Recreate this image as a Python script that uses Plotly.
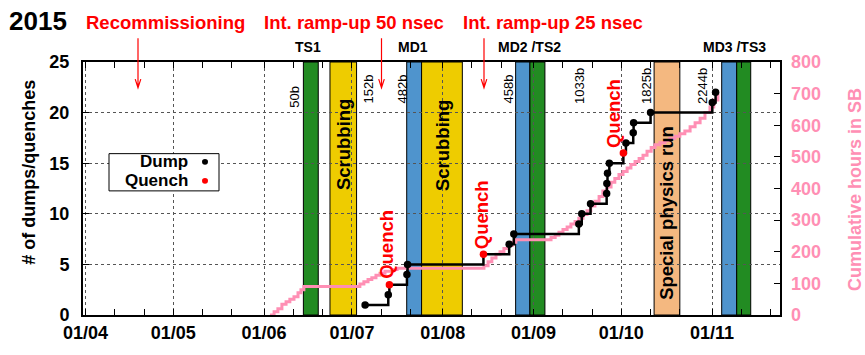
import plotly.graph_objects as go

# ---------------- data ----------------
# Beam dumps (cumulative count); flagged entries were quenches
dump_times = [
    "2015-07-05 12:00", "2015-07-13 10:00", "2015-07-13 19:00", "2015-07-19 19:00",
    "2015-07-20 00:00", "2015-08-14 22:00", "2015-08-23 17:00", "2015-08-25 07:00",
    "2015-09-16 12:00", "2015-09-17 12:00", "2015-09-20 12:00", "2015-09-26 00:00",
    "2015-09-26 02:00", "2015-09-26 07:00", "2015-09-26 22:00", "2015-10-01 17:00",
    "2015-10-02 14:00", "2015-10-05 02:00", "2015-10-05 05:00", "2015-10-11 00:00",
    "2015-11-01 02:00", "2015-11-02 05:00",
]
dump_counts = [1, 2, 3, 4, 5, 6, 7, 8, 9, 10, 11, 12, 13, 14, 15, 16, 17, 18, 19, 20, 21, 22]
is_quench = [0, 0, 1, 0, 0, 1, 0, 0, 0, 0, 0, 0, 0, 0, 0, 1, 0, 0, 0, 0, 0, 0]

# Cumulative hours in stable beams
sb_times = [
    "2015-06-03 00:00", "2015-06-04 10:00", "2015-06-05 17:00", "2015-06-07 02:00",
    "2015-06-08 12:00", "2015-06-09 19:00", "2015-06-11 05:00", "2015-06-12 14:00",
    "2015-06-13 14:00", "2015-06-14 14:00",
    "2015-07-03 17:00", "2015-07-05 02:00", "2015-07-06 12:00", "2015-07-07 19:00",
    "2015-07-09 05:00", "2015-07-10 14:00", "2015-07-12 07:00", "2015-07-14 17:00",
    "2015-07-16 10:00",
    "2015-08-15 02:00", "2015-08-16 12:00", "2015-08-17 19:00", "2015-08-19 05:00",
    "2015-08-20 14:00", "2015-08-21 22:00", "2015-08-23 07:00", "2015-08-24 17:00",
    "2015-08-26 00:00",
    "2015-09-07 00:00", "2015-09-08 10:00", "2015-09-09 17:00", "2015-09-11 02:00",
    "2015-09-12 12:00", "2015-09-13 19:00", "2015-09-15 05:00", "2015-09-16 12:00",
    "2015-09-17 22:00", "2015-09-19 07:00", "2015-09-20 14:00", "2015-09-22 00:00",
    "2015-09-23 10:00", "2015-09-24 17:00", "2015-09-26 02:00", "2015-09-27 12:00",
    "2015-09-28 19:00", "2015-09-30 05:00", "2015-10-01 14:00", "2015-10-03 00:00",
    "2015-10-04 07:00", "2015-10-05 17:00", "2015-10-07 02:00", "2015-10-08 10:00",
    "2015-10-09 19:00", "2015-10-11 05:00", "2015-10-12 12:00", "2015-10-14 05:00",
    "2015-10-15 22:00", "2015-10-17 14:00", "2015-10-19 07:00", "2015-10-21 00:00",
    "2015-10-22 17:00", "2015-10-24 12:00", "2015-10-26 05:00", "2015-10-27 22:00",
    "2015-10-29 14:00", "2015-10-31 07:00", "2015-11-01 14:00", "2015-11-03 00:00",
]
sb_hours = [
    0, 10, 20, 34, 42, 50, 58, 70, 80, 90,
    98, 105, 112, 118, 126, 132, 138, 144, 148,
    156, 168, 180, 192, 200, 210, 220, 230, 238,
    245, 252, 262, 270, 278, 288, 296, 306, 318, 330, 345, 360, 375, 392,
    405, 420, 432, 444, 454, 465, 476, 485, 495, 505, 518, 530, 538,
    545, 552, 558, 565, 573, 582, 595, 608, 622, 640, 658, 680, 700,
]

# Machine periods: technical stops, machine development, scrubbing, special run
period_kind = ["TS", "Scrub", "MD", "Scrub", "MD", "TS", "Special", "MD", "TS"]
period_start = [
    "2015-06-14 10:00", "2015-06-23 12:00", "2015-07-19 17:00", "2015-07-24 19:00",
    "2015-08-25 22:00", "2015-08-30 19:00", "2015-10-12 05:00", "2015-11-04 07:00",
    "2015-11-09 10:00",
]
period_end = [
    "2015-06-19 12:00", "2015-07-02 14:00", "2015-07-24 19:00", "2015-08-07 17:00",
    "2015-08-30 19:00", "2015-09-04 22:00", "2015-10-21 00:00", "2015-11-09 10:00",
    "2015-11-14 05:00",
]
period_colors = {"TS": "#228b22", "MD": "#4f94cd", "Scrub": "#eecc00", "Special": "#f4b880"}

month_ticks = ["2015-04-01", "2015-05-01", "2015-06-01", "2015-07-01",
               "2015-08-01", "2015-09-01", "2015-10-01", "2015-11-01"]
month_labels = ["01/04", "01/05", "01/06", "01/07", "01/08", "01/09", "01/10", "01/11"]
minor_ticks = ["2015-04-11", "2015-04-21", "2015-05-11", "2015-05-21", "2015-06-11",
               "2015-06-21", "2015-07-11", "2015-07-21", "2015-08-11", "2015-08-21",
               "2015-09-11", "2015-09-21", "2015-10-11", "2015-10-21", "2015-11-11",
               "2015-11-21"]

bunch_labels = ["50b", "152b", "482b", "458b", "1033b", "1825b", "2244b"]

# ---------------- layout helpers ----------------
W, H = 865, 355
L, R, T, B = 83, 780, 62, 327          # plot frame in pixels
FONT = "Liberation Sans, Arial, Helvetica, sans-serif"
PINK = "#ff8fb4"
RED = "#ff0000"


def px(x):
    return (x - L) / (R - L)


def py(y):
    return (B - y) / (B - T)


fig = go.Figure()

# cumulative stable-beam hours (right axis)
fig.add_trace(go.Scatter(
    x=sb_times, y=sb_hours, yaxis="y", mode="lines",
    line=dict(color=PINK, width=3, shape="hv"), hoverinfo="skip",
))

# dumps (left axis)
fig.add_trace(go.Scatter(
    x=dump_times, y=dump_counts, yaxis="y2", mode="lines+markers",
    line=dict(color="black", width=2.5, shape="hv"),
    marker=dict(size=7.5, color=[RED if q else "black" for q in is_quench]),
))

shapes = []
for kind, s, e in zip(period_kind, period_start, period_end):
    shapes.append(dict(type="rect", xref="x", yref="paper", x0=s, x1=e, y0=0, y1=1,
                       fillcolor=period_colors[kind], line=dict(color="black", width=1),
                       layer="between"))

# phase arrows
for ax in (138, 381.5, 484):
    shapes.append(dict(type="path", xref="paper", yref="paper", layer="above",
                       path=(f"M{px(ax)},{py(37)} L{px(ax)},{py(89)} "
                             f"M{px(ax - 2.8)},{py(80)} L{px(ax)},{py(89)} L{px(ax + 2.8)},{py(80)}"),
                       line=dict(color=RED, width=1.2)))

# legend box and symbols
LEG_ROWS = (166.5, 186.5)
shapes.append(dict(type="rect", xref="paper", yref="paper", layer="above",
                   x0=px(109), x1=px(219), y0=py(197), y1=py(158),
                   fillcolor="white", line=dict(color="black", width=1)))
for cy, col in zip(LEG_ROWS, ("black", RED)):
    shapes.append(dict(type="circle", xref="paper", yref="paper", layer="above",
                       x0=px(202), x1=px(208), y0=py(cy + 3), y1=py(cy - 3),
                       fillcolor=col, line=dict(color=col, width=0)))

ann = []


def text(x, y, s, size=18.5, color="black", bold=True, angle=0, xanchor="center",
         yanchor="middle", pad=1):
    ann.append(dict(xref="paper", yref="paper", x=px(x), y=py(y), text=s, showarrow=False,
                    textangle=angle, xanchor=xanchor, yanchor=yanchor, borderpad=pad,
                    font=dict(family=FONT, size=size, color=color,
                              weight="bold" if bold else "normal")))


text(37.5, 19, "2015", size=26)
text(165, 21, "Recommissioning", color=RED)
text(354, 21, "Int. ramp-up 50 nsec", color=RED)
text(553, 21, "Int. ramp-up 25 nsec", color=RED)

for x, s in ((308, "TS1"), (412.5, "MD1"), (529, "MD2 /TS2"), (734.5, "MD3 /TS3")):
    text(x, 46, s, size=14)

for x, s, yb in zip((295, 368, 402, 508, 580, 647, 703), bunch_labels,
                    (112, 108, 108, 108, 108, 108, 108)):
    text(x, yb, s, size=13, bold=False, angle=-90, yanchor="bottom")

text(343, 149, "Scrubbing", angle=-90)
text(442, 149, "Scrubbing", angle=-90)
text(667, 220, "Special physics run", angle=-90)

for x, y in ((387, 253.5), (481, 222.5), (613.5, 116)):
    text(x, y, "Quench", color=RED, angle=-90)

text(189, LEG_ROWS[0], "Dump", size=17, xanchor="right", pad=0)
text(189, LEG_ROWS[1], "Quench", size=17, xanchor="right", pad=0)

text(29, 178, "# of dumps/quenches", size=18, angle=-90)
text(855, 196, "Cumulative hours in SB", size=18, color=PINK, angle=-90)

fig.update_layout(
    width=W, height=H,
    margin=dict(l=L, r=W - R, t=T, b=H - B),
    paper_bgcolor="white", plot_bgcolor="white",
    showlegend=False,
    shapes=shapes, annotations=ann,
    font=dict(family=FONT, color="black"),
    xaxis=dict(
        type="date",
        range=["2015-03-31 03:30", "2015-11-24 05:00"],
        tickvals=month_ticks, ticktext=month_labels,
        ticks="inside", ticklen=6, tickcolor="black", tickwidth=1,
        showgrid=True, griddash="dot", gridcolor="#555", gridwidth=1,
        showline=True, linecolor="black", linewidth=2, mirror="allticks",
        tickfont=dict(family=FONT, size=18, color="black", weight="bold"),
        minor=dict(tickvals=minor_ticks, ticks="inside", ticklen=4, tickcolor="black",
                   showgrid=False),
        zeroline=False,
    ),
    # right-hand axis: hours in stable beams
    yaxis=dict(
        side="right", range=[0, 800], dtick=100,
        ticks="inside", ticklen=6, tickcolor="black",
        showgrid=False, zeroline=False, showline=False,
        tickfont=dict(family=FONT, size=18, color=PINK, weight="bold"),
        ticklabelstandoff=10,
    ),
    # left-hand axis: number of dumps
    yaxis2=dict(
        side="left", overlaying="y", range=[0, 25], dtick=5,
        ticks="inside", ticklen=6, tickcolor="black",
        showgrid=True, griddash="dot", gridcolor="#555", gridwidth=1,
        showline=True, linecolor="black", linewidth=2, mirror=True,
        zeroline=False,
        tickfont=dict(family=FONT, size=18, color="black", weight="bold"),
        ticklabelstandoff=8,
    ),
)

fig.write_html("out.html")
